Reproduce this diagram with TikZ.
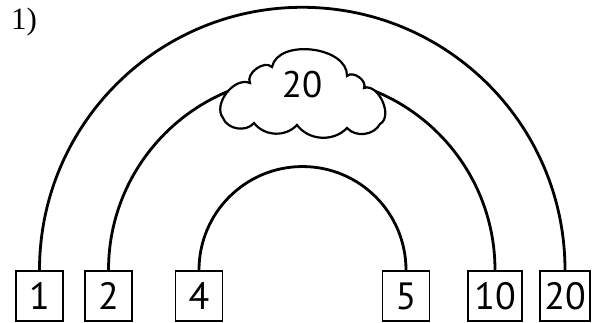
\documentclass[tikz,border=0pt]{standalone}
\usepackage{fontspec}
\newfontfamily\digitfont{PT Sans}
\newfontfamily\labelfont{Liberation Serif}
\usetikzlibrary{calc}
\tikzset{
  numbox/.style={draw, line width=1.9pt, minimum width=47pt, minimum height=50pt, inner sep=0pt, font=\digitfont\fontsize{38}{42}\selectfont},
  arcline/.style={line width=2.8pt},
  cloudline/.style={line width=2.2pt, fill=white},
}
\begin{document}
\begin{tikzpicture}[x=1pt,y=1pt]
\useasboundingbox (0,0) rectangle (594,323);
\node[font=\labelfont\fontsize{31}{34}\selectfont, anchor=north west, inner sep=0pt] (lbl) at (11,315) {1)};
\node[numbox] (b1) at (39.5,27) {1};
\node[numbox] (b2) at (108.5,27) {2};
\node[numbox] (b4) at (199,27) {4};
\node[numbox] (b5) at (406,27) {5};
\node[numbox, minimum width=54pt] (b10) at (495,27) {10};
\node[numbox, minimum width=50pt] (b20) at (565,27) {20};
\draw[arcline] let \p1=(b1.north), \p2=(b20.north) in (\p1) arc[start angle=180, end angle=0, radius={0.5*(\x2-\x1)}];
\draw[arcline] let \p1=(b2.north), \p2=(b10.north) in (\p1) arc[start angle=180, end angle=0, radius={0.5*(\x2-\x1)}];
\draw[arcline] let \p1=(b4.north), \p2=(b5.north) in (\p1) arc[start angle=180, end angle=0, radius={0.5*(\x2-\x1)}];
\coordinate (cA) at (223,205);
\coordinate (cB) at (250,240);
\coordinate (cC) at (272,256);
\coordinate (cD) at (347,247);
\coordinate (cE) at (364,235);
\coordinate (cF) at (380,199);
\coordinate (cG) at (347,195);
\coordinate (cH) at (297,198);
\coordinate (cI) at (254,200);
\draw[cloudline] (cA) to[bend left=75] (cB) to[bend left=80] (cC) to[bend left=85] (cD) to[bend left=80] (cE) to[bend left=85] (cF) to[bend left=55] (cG) to[bend left=50] (cH) to[bend left=50] (cI) to[bend left=60] (cA) -- cycle;
\node[font=\digitfont\fontsize{37}{40}\selectfont] (ctext) at (302,238) {20};
\end{tikzpicture}
\end{document}
